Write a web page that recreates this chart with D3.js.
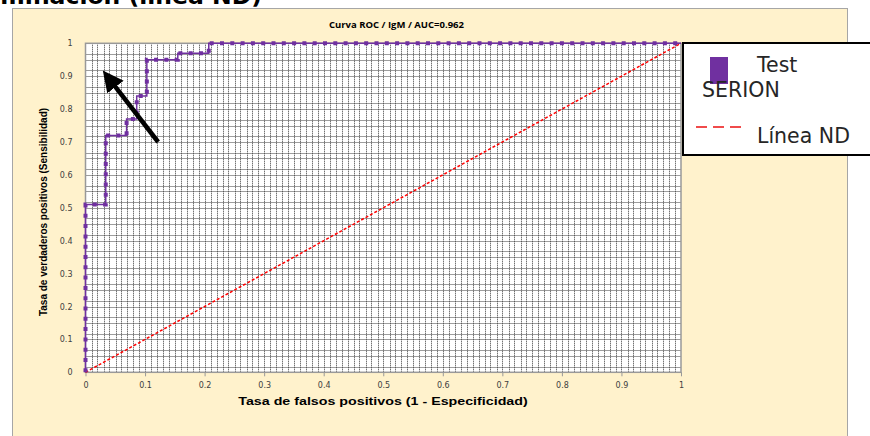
<!DOCTYPE html>
<html>
<head>
<meta charset="utf-8">
<script src="https://cdn.jsdelivr.net/npm/d3@7"></script>
<style>
  body { margin: 0; background: #fff; }
  svg { display: block; }
</style>
</head>
<body>
<div id="chart"></div>
<script>
// ROC curve points (false positive rate / true positive rate)
var fpr = [0, 0, 0.034, 0.034, 0.069, 0.069, 0.086, 0.086, 0.103, 0.103, 0.155, 0.155, 0.207, 0.207, 1];
var tpr = [0, 0.51, 0.51, 0.72, 0.72, 0.77, 0.77, 0.84, 0.84, 0.95, 0.95, 0.97, 0.97, 1, 1];
// non-discrimination line
var ndLine = [[0, 0], [1, 1]];
// arrow annotation (tail -> tip) in data units
var arrowPts = [[0.122, 0.70], [0.036, 0.90]];
var tickValues = [0, 0.1, 0.2, 0.3, 0.4, 0.5, 0.6, 0.7, 0.8, 0.9, 1];
var legendLabels = ["Test SERION", "Línea ND"];

var W = 870, H = 436;
var svg = d3.select("#chart").append("svg")
    .attr("width", W).attr("height", H);

// cream chart area
svg.append("rect")
    .attr("x", 12.5).attr("y", 8.5)
    .attr("width", 835).attr("height", 440)
    .attr("fill", "#fff2cc").attr("stroke", "#a6a6a6");

// page heading, cut by the top edge as in the source
svg.append("text")
    .attr("x", 262).attr("y", 4)
    .attr("text-anchor", "end")
    .attr("font-family", "DejaVu Sans")
    .attr("font-weight", "bold")
    .attr("font-size", 23.5)
    .attr("fill", "#000")
    .text("Discriminación (línea ND)");

var x = d3.scaleLinear().domain([0, 1]).range([85.5, 681]);
var y = d3.scaleLinear().domain([0, 1]).range([372.3, 43.3]);

// plot area
svg.append("rect")
    .attr("x", x(0)).attr("y", y(1))
    .attr("width", x(1) - x(0)).attr("height", y(0) - y(1))
    .attr("fill", "#fff");

// minor dotted grid (lines come in pairs in the source)
var vGrid = [], hGrid = [];
d3.range(0, 50).forEach(function(i) { vGrid.push(i * 0.02 + 0.0105); vGrid.push(i * 0.02 + 0.02); });
d3.range(0, 20).forEach(function(i) { hGrid.push(i * 0.05 + 0.0175); hGrid.push(i * 0.05 + 0.05); });
vGrid = vGrid.filter(d => d < 0.999);
hGrid = hGrid.filter(d => d < 0.999);

var grid = svg.append("g").attr("stroke", "#3a3a3a").attr("stroke-width", 1)
    .attr("stroke-dasharray", "1,1");
grid.selectAll("line.v")
    .data(vGrid)
    .enter().append("line")
    .attr("x1", d => Math.round(x(d)) + 0.5).attr("x2", d => Math.round(x(d)) + 0.5)
    .attr("y1", y(1)).attr("y2", y(0));
grid.selectAll("line.h")
    .data(hGrid)
    .enter().append("line")
    .attr("y1", d => Math.round(y(d)) + 0.5).attr("y2", d => Math.round(y(d)) + 0.5)
    .attr("x1", x(0)).attr("x2", x(1));

// plot border / axes
svg.append("rect")
    .attr("x", x(0)).attr("y", y(1))
    .attr("width", x(1) - x(0)).attr("height", y(0) - y(1))
    .attr("fill", "none").attr("stroke", "#999").attr("stroke-width", 1.5);

var xAxis = d3.axisBottom(x).tickValues(tickValues).tickFormat(d3.format("")).tickSize(4).tickPadding(6);
var yAxis = d3.axisLeft(y).tickValues(tickValues).tickFormat(d3.format("")).tickSize(0).tickPadding(13);

var gx = svg.append("g").attr("transform", "translate(0," + y(0) + ")").call(xAxis);
var gy = svg.append("g").attr("transform", "translate(" + x(0) + ",0)").call(yAxis);
[gx, gy].forEach(function(g) {
  g.select(".domain").remove();
  g.selectAll(".tick line").attr("stroke", "#999");
  g.selectAll(".tick text")
    .attr("font-family", "DejaVu Sans")
    .attr("font-size", 8)
    .attr("fill", "#404040");
});

// non-discrimination line
var line = d3.line().x(d => x(d[0])).y(d => y(d[1]));
svg.append("path")
    .attr("d", line(ndLine))
    .attr("fill", "none")
    .attr("stroke", "#ff0000")
    .attr("stroke-width", 1.5)
    .attr("stroke-dasharray", "3,2");

// ROC curve
var roc = fpr.map((v, i) => [v, tpr[i]]);
svg.append("path")
    .attr("d", line(roc))
    .attr("fill", "none")
    .attr("stroke", "#7030a0")
    .attr("stroke-width", 1.5);
svg.append("path")
    .attr("d", line(roc))
    .attr("fill", "none")
    .attr("stroke", "#7030a0")
    .attr("stroke-width", 4)
    .attr("stroke-dasharray", "4,6.3");

// arrow annotation
svg.append("defs").append("marker")
    .attr("id", "head")
    .attr("viewBox", "0 0 10 10")
    .attr("refX", 2).attr("refY", 5)
    .attr("markerWidth", 4.6).attr("markerHeight", 4.6)
    .attr("orient", "auto")
    .append("path").attr("d", "M0,0 L10,5 L0,10 z").attr("fill", "#000");
var a0 = arrowPts[0], a1 = arrowPts[1];
svg.append("line")
    .attr("x1", x(a0[0])).attr("y1", y(a0[1]))
    .attr("x2", x(a1[0]) + 6).attr("y2", y(a1[1]) + 7.5)
    .attr("stroke", "#000").attr("stroke-width", 4.5)
    .attr("marker-end", "url(#head)");

// chart title
svg.append("text")
    .attr("x", 329).attr("y", 28)
    .attr("font-family", "Open Sans")
    .attr("font-weight", "bold")
    .attr("font-size", 9.5)
    .attr("fill", "#000")
    .text("Curva ROC / IgM / AUC=0.962");

// axis titles
svg.append("text")
    .attr("transform", "translate(383,405) scale(1.24,1)")
    .attr("text-anchor", "middle")
    .attr("font-family", "Liberation Sans")
    .attr("font-weight", "bold")
    .attr("font-size", 11.5)
    .attr("fill", "#000")
    .text("Tasa de falsos positivos (1 - Especificidad)");

svg.append("text")
    .attr("transform", "translate(47,212) rotate(-90)")
    .attr("text-anchor", "middle")
    .attr("font-family", "Liberation Sans")
    .attr("font-weight", "bold")
    .attr("font-size", 10)
    .attr("fill", "#000")
    .text("Tasa de verdaderos positivos (Sensibilidad)");

// legend
var lg = svg.append("g");
lg.append("rect")
    .attr("x", 683).attr("y", 43)
    .attr("width", 200).attr("height", 112)
    .attr("fill", "#fff").attr("stroke", "#000").attr("stroke-width", 2);
lg.append("rect")
    .attr("x", 710).attr("y", 57)
    .attr("width", 18).attr("height", 27)
    .attr("fill", "#7030a0");
var words = legendLabels[0].split(" ");
lg.append("text")
    .attr("x", 757).attr("y", 72)
    .attr("font-family", "DejaVu Sans").attr("font-size", 20.5).attr("fill", "#262626")
    .text(words[0]);
lg.append("text")
    .attr("x", 702).attr("y", 97)
    .attr("font-family", "DejaVu Sans").attr("font-size", 20.5).attr("fill", "#262626")
    .text(words[1]);
lg.append("line")
    .attr("x1", 696).attr("x2", 741)
    .attr("y1", 127).attr("y2", 127)
    .attr("stroke", "#f04b4b").attr("stroke-width", 2)
    .attr("stroke-dasharray", "11,6");
lg.append("text")
    .attr("x", 757).attr("y", 143)
    .attr("font-family", "DejaVu Sans").attr("font-size", 20.5).attr("fill", "#262626")
    .text(legendLabels[1]);
</script>
</body>
</html>
